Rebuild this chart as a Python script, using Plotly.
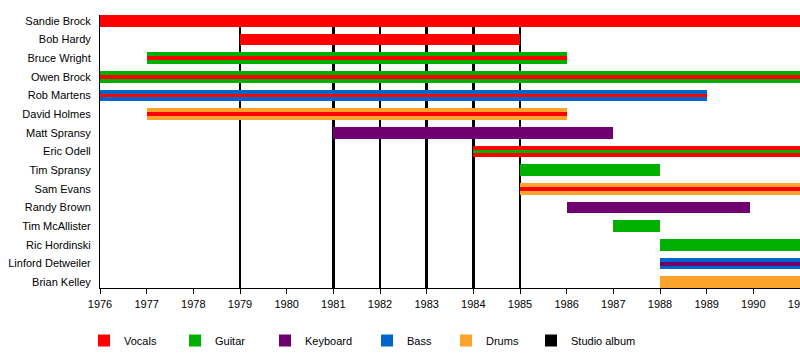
import plotly.graph_objects as go

# ---- data ----
members = ["Sandie Brock", "Bob Hardy", "Bruce Wright", "Owen Brock", "Rob Martens",
           "David Holmes", "Matt Spransy", "Eric Odell", "Tim Spransy", "Sam Evans",
           "Randy Brown", "Tim McAllister", "Ric Hordinski", "Linford Detweiler", "Brian Kelley"]

# main (outer) role periods: (member, role, start, end)
outer_periods = [
    ("Sandie Brock", "Vocals", 1976, 1991),
    ("Bob Hardy", "Vocals", 1979, 1985),
    ("Bruce Wright", "Guitar", 1977, 1986),
    ("Owen Brock", "Guitar", 1976, 1991),
    ("Rob Martens", "Bass", 1976, 1989),
    ("David Holmes", "Drums", 1977, 1986),
    ("Matt Spransy", "Keyboard", 1981, 1987),
    ("Eric Odell", "Vocals", 1984, 1991),
    ("Tim Spransy", "Guitar", 1985, 1988),
    ("Sam Evans", "Drums", 1985, 1991),
    ("Randy Brown", "Keyboard", 1986, 1989.93),
    ("Tim McAllister", "Guitar", 1987, 1988),
    ("Ric Hordinski", "Guitar", 1988, 1991),
    ("Linford Detweiler", "Bass", 1988, 1991),
    ("Brian Kelley", "Drums", 1988, 1991),
]

# secondary (inner stripe) role periods
inner_periods = [
    ("Bruce Wright", "Vocals", 1977, 1986),
    ("Owen Brock", "Vocals", 1976, 1991),
    ("Rob Martens", "Vocals", 1976, 1989),
    ("David Holmes", "Vocals", 1977, 1986),
    ("Eric Odell", "Guitar", 1984, 1991),
    ("Sam Evans", "Vocals", 1985, 1991),
    ("Linford Detweiler", "Keyboard", 1988, 1991),
]

studio_albums = [1979, 1981, 1982, 1983, 1984, 1985]

roles = ["Vocals", "Guitar", "Keyboard", "Bass", "Drums"]
role_colors = {"Vocals": "#FF0000", "Guitar": "#00B000", "Keyboard": "#700070",
               "Bass": "#0066CC", "Drums": "#FBA32C", "Studio album": "#000000"}

year_start, year_end = 1976, 1991
year_ticks = list(range(1976, 1992))

# ---- figure ----
FONT = "Liberation Sans, Arial, sans-serif"
row = {m: i for i, m in enumerate(members)}
y_lo, y_hi = -0.31, len(members) - 1 + 0.31

fig = go.Figure()

# studio album lines (as thin vertical bars, drawn behind member bars)
fig.add_trace(go.Bar(
    x=studio_albums, y=[y_hi - y_lo] * len(studio_albums), base=y_lo,
    width=0.064, orientation="v",
    marker=dict(color="#000000", line=dict(width=0)),
    showlegend=False, hoverinfo="skip"))

def add_periods(periods, width):
    for role in roles:
        sel = [p for p in periods if p[1] == role]
        if not sel:
            continue
        fig.add_trace(go.Bar(
            y=[row[p[0]] for p in sel],
            x=[p[3] - p[2] for p in sel],
            base=[p[2] for p in sel],
            orientation="h", width=width,
            marker=dict(color=role_colors[role], line=dict(width=0)),
            showlegend=False, name=role))

add_periods(outer_periods, 0.63)
add_periods(inner_periods, 0.21)

# legend entries, each in its own legend
legend_names = roles + ["Studio album"]
legend_x_px = [97, 188, 278, 380, 459, 544]
legend_layout = {}
for i, (name, xp) in enumerate(zip(legend_names, legend_x_px)):
    key = "legend" if i == 0 else f"legend{i+1}"
    fig.add_trace(go.Scatter(
        x=[None], y=[None], mode="markers", name=name,
        marker=dict(symbol="square", size=12, color=role_colors[name], line=dict(width=0)),
        legend=key, showlegend=True))
    legend_layout[key] = dict(
        x=(xp - 13 - 100) / 700, xanchor="left",
        y=-0.193, yanchor="middle",
        orientation="h", bgcolor="rgba(0,0,0,0)", borderwidth=0,
        font=dict(family=FONT, size=11, color="#000000"))

fig.update_layout(
    width=800, height=355,
    margin=dict(l=100, r=0, t=15, b=60, pad=0),
    paper_bgcolor="white", plot_bgcolor="white",
    barmode="overlay", bargap=0,
    font=dict(family=FONT, size=11, color="#000000"),
    xaxis=dict(range=[year_start, year_end], tickvals=year_ticks,
               ticktext=[str(y) for y in year_ticks],
               showgrid=False, zeroline=False, showline=True, linecolor="black",
               linewidth=1, ticks="outside", ticklen=5, tickcolor="black",
               ticklabelstandoff=1, ticklabeloverflow="allow",
               automargin=False, fixedrange=True),
    yaxis=dict(range=[y_hi, y_lo], tickvals=list(range(len(members))), ticktext=members,
               showgrid=False, zeroline=False, showline=True, linecolor="black",
               linewidth=1, ticks="", ticklabelstandoff=6, automargin=False,
               fixedrange=True),
    **legend_layout,
)

fig.write_html("out.html", config={"displayModeBar": False},
               post_script="document.body.style.margin='0';document.body.style.overflow='hidden';")
